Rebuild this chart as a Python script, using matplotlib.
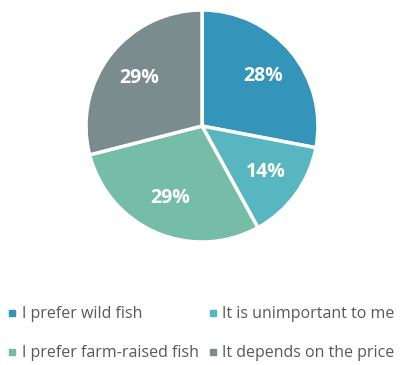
import matplotlib.pyplot as plt
from matplotlib.lines import Line2D

# survey answers
labels = ['I prefer wild fish', 'It is unimportant to me',
          'I prefer farm-raised fish', 'It depends on the price']
values = [28, 14, 29, 29]
colors = ['#3494BA', '#58B6C0', '#75BDA7', '#7A8C8E']

plt.rcParams['font.family'] = ['Open Sans', 'DejaVu Sans']

fig = plt.figure(figsize=(4.0, 3.65), dpi=100)
# pie axes: center ~ (202,126) px, radius ~116 px
ax = fig.add_axes([(202 - 116) / 400, 1 - (126 + 116) / 365, 232 / 400, 232 / 365])
wedges, texts, autotexts = ax.pie(
    values, colors=colors, startangle=90, counterclock=False,
    autopct='%d%%', pctdistance=0.68,
    wedgeprops=dict(edgecolor='white', linewidth=2.5))
for t in autotexts:
    t.set_color('white')
    t.set_fontsize(14)
    t.set_fontweight('bold')
ax.set_aspect('equal')
ax.set_xlim(-1.0, 1.0)
ax.set_ylim(-1.0, 1.0)

# legend fills column-wise, so reorder to read row by row
order = [0, 2, 1, 3]
handles = [Line2D([], [], marker='s', linestyle='', markersize=5,
                  color=colors[i]) for i in order]
fig.legend(handles, [labels[i] for i in order], ncol=2, loc='upper left',
           bbox_to_anchor=(4 / 400, 1 - 303 / 365), frameon=False,
           fontsize=11.5, labelcolor='#595959', handlelength=0.6,
           handletextpad=0.3, columnspacing=0.6, labelspacing=1.45,
           borderaxespad=0.0, borderpad=0.2)

fig.savefig('out.png', dpi=100)
